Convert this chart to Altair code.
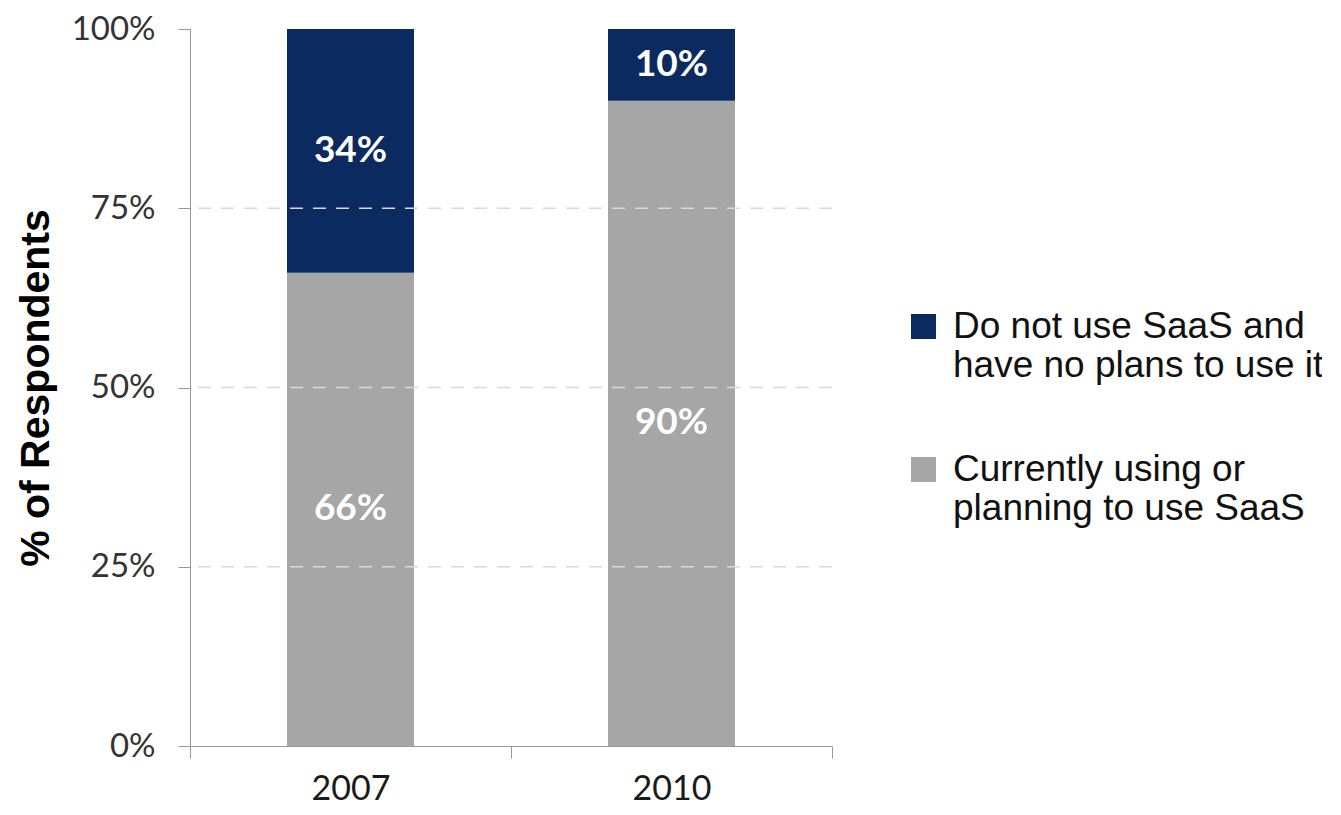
import altair as alt
import pandas as pd

years = ["2007", "2010"]
series = ["Do not use SaaS and|have no plans to use it", "Currently using or|planning to use SaaS"]
not_using = [0.34, 0.10]
using = [0.66, 0.90]
colors = ["#0b2a60", "#a6a6a6"]
grid_vals = [0.25, 0.50, 0.75]

rows = []
for i, y in enumerate(years):
    rows.append({"year": y, "series": series[1], "value": using[i], "ord": 0})
    rows.append({"year": y, "series": series[0], "value": not_using[i], "ord": 1})
df = pd.DataFrame(rows)
grid_df = pd.DataFrame({"v": grid_vals})

x_enc = alt.X("year:N", title=None, sort=years,
              scale=alt.Scale(paddingInner=0, paddingOuter=0),
              axis=alt.Axis(labelAngle=0, tickBand="extent", tickSize=12, tickColor="#999999",
                            domainColor="#999999", labelFont="Lato", labelFontSize=34,
                            labelColor="#1a1a1a", labelPadding=14, grid=False))

bars = alt.Chart(df).mark_bar(size=127).encode(
    x=x_enc,
    y=alt.Y("value:Q", stack="zero", title="% of Respondents",
            scale=alt.Scale(domain=[0, 1], nice=False),
            axis=alt.Axis(format=".0%", values=[0, 0.25, 0.5, 0.75, 1], grid=False,
                          tickSize=12, tickColor="#999999", domainColor="#999999",
                          labelFont="Lato", labelFontSize=33, labelColor="#333333",
                          labelPadding=23, titleFont="Liberation Sans", titleFontSize=41,
                          titleFontWeight="bold", titleColor="#000000", titlePadding=14)),
    color=alt.Color("series:N", sort=series,
                    scale=alt.Scale(domain=series, range=colors),
                    legend=alt.Legend(title=None, orient="none", legendX=715, legendY=279,
                                      symbolType="square", symbolSize=625, symbolStrokeWidth=0,
                                      labelFont="Liberation Sans", labelFontSize=37,
                                      labelColor="#111111",
                                      labelExpr="split(datum.label, '|')",
                                      labelLimit=600, rowPadding=66, labelOffset=11,
                                      labelBaseline="middle", symbolOffset=0)),
    order=alt.Order("ord:Q"),
)

labels = alt.Chart(df).mark_text(color="white", font="Lato", fontWeight="bold",
                                 fontSize=37).encode(
    x=alt.X("year:N", sort=years),
    y=alt.Y("mid:Q"),
    text=alt.Text("value:Q", format=".0%"),
).transform_stack(
    stack="value", groupby=["year"], as_=["y0", "y1"], sort=[alt.SortField("ord")]
).transform_calculate(mid="(datum.y0 + datum.y1) / 2")

grid = alt.Chart(grid_df).mark_rule(color="#d9d9d9", strokeDash=[13, 10], strokeWidth=1.5).encode(
    y="v:Q"
)

chart = alt.layer(bars, grid, labels).properties(
    width=642, height=717,
    padding={"left": 182, "top": 21, "right": 490, "bottom": 60},
    autosize=alt.AutoSizeParams(type="none"),
).configure_view(stroke=None)

chart.save("out.html", embed_options={"renderer": "svg", "actions": False})
